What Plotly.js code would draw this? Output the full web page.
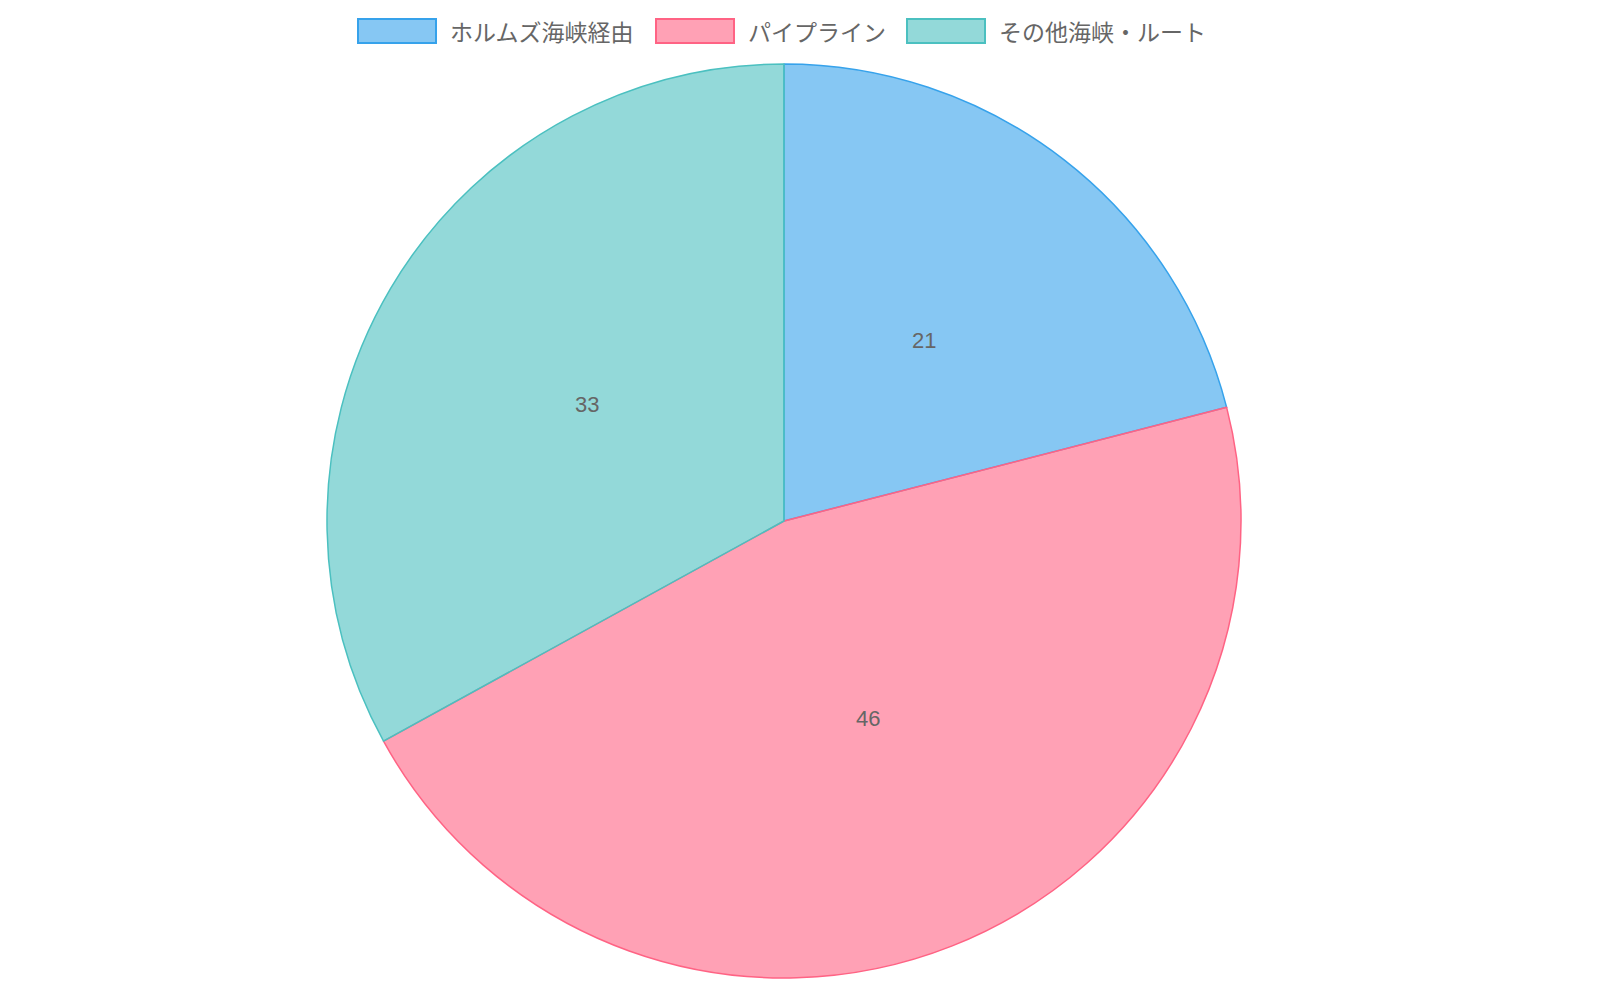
<!DOCTYPE html>
<html>
<head>
<meta charset="utf-8">
<script src="https://cdn.plot.ly/plotly-3.0.1.min.js"></script>
<style>
  html, body { margin: 0; padding: 0; background: #fff; }
  #plot { width: 1600px; height: 1000px; }
</style>
</head>
<body>
<div id="plot"></div>
<script>
// chart values
const labels = ['ホルムズ海峡経由', 'パイプライン', 'その他海峡・ルート'];
const values = [21, 46, 33];
const fillColors = ['rgba(54,162,235,0.6)', 'rgba(255,99,132,0.6)', 'rgba(75,192,192,0.6)'];
const lineColors = ['rgb(54,162,235)', 'rgb(255,99,132)', 'rgb(75,192,192)'];

const font = '"Liberation Sans", Arial, "Noto Sans CJK JP", sans-serif';
const W = 1600, H = 1000;

// pie geometry (paper)
const dom = { x: [0, 0.98], y: [0.022, 0.936] };
const cx = (dom.x[0] + dom.x[1]) / 2;
const cy = (dom.y[0] + dom.y[1]) / 2;
const radiusPx = (dom.y[1] - dom.y[0]) * H / 2;

const pie = {
  type: 'pie',
  labels: labels,
  values: values,
  sort: false,
  direction: 'clockwise',
  rotation: 0,
  textinfo: 'none',
  showlegend: false,
  marker: { colors: fillColors, line: { color: lineColors, width: 1.5 } },
  domain: dom,
  hoverinfo: 'none'
};

// value labels at half radius, mid-angle of each slice (like chartjs datalabels)
const total = values.reduce((a, b) => a + b, 0);
const annotations = [];
let acc = 0;
values.forEach((v, i) => {
  const mid = (acc + v / 2) / total * 2 * Math.PI;
  acc += v;
  annotations.push({
    xref: 'paper', yref: 'paper',
    x: cx + (radiusPx / 2) * Math.sin(mid) / W,
    y: cy + (radiusPx / 2) * Math.cos(mid) / H,
    text: String(v),
    showarrow: false,
    font: { family: font, size: 22, color: '#666' }
  });
});

// legend: wide boxes with border, built from labels/colours
const shapes = [];
const legendBoxX = [358, 656, 907];
const legendY = 31;
labels.forEach((lab, i) => {
  shapes.push({
    type: 'rect', xref: 'paper', yref: 'paper',
    x0: legendBoxX[i] / W, x1: (legendBoxX[i] + 78) / W,
    y0: 1 - (legendY + 12) / H, y1: 1 - (legendY - 12) / H,
    fillcolor: fillColors[i],
    line: { color: lineColors[i], width: 2 }
  });
  annotations.push({
    xref: 'paper', yref: 'paper',
    x: (legendBoxX[i] + 90) / W, y: 1 - legendY / H,
    xanchor: 'left', yanchor: 'middle',
    text: lab,
    showarrow: false,
    font: { family: '"Noto Sans CJK JP", sans-serif', size: 23, color: '#666' }
  });
});

const layout = {
  width: W,
  height: H,
  margin: { t: 0, b: 0, l: 0, r: 0 },
  paper_bgcolor: '#fff',
  showlegend: false,
  annotations: annotations,
  shapes: shapes,
  hovermode: false
};

Plotly.newPlot('plot', [pie], layout, { displayModeBar: false, staticPlot: true });
</script>
</body>
</html>
